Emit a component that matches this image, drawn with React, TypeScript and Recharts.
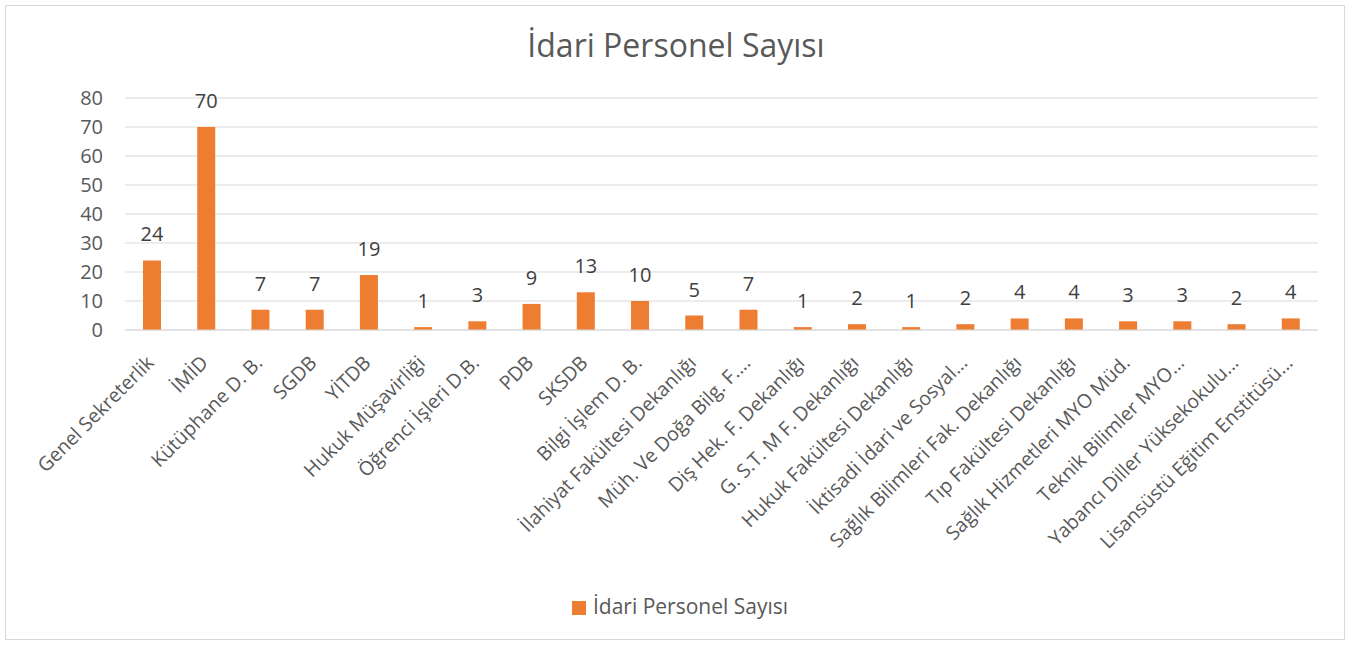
import { BarChart, Bar, XAxis, YAxis, CartesianGrid, Legend, LabelList } from "recharts";

const categories = [
  "Genel Sekreterlik", "İMİD", "Kütüphane D. B.", "SGDB", "YİTDB", "Hukuk Müşavirliği",
  "Öğrenci İşleri D.B.", "PDB", "SKSDB", "Bilgi İşlem D. B.", "İlahiyat Fakültesi Dekanlığı",
  "Müh. Ve Doğa Bilg. F....", "Diş Hek. F. Dekanlığı", "G. S.T. M F. Dekanlığı",
  "Hukuk Fakültesi Dekanlığı", "İktisadi İdari ve Sosyal...", "Sağlık Bilimleri Fak. Dekanlığı",
  "Tıp Fakültesi Dekanlığı", "Sağlık Hizmetleri MYO Müd.", "Teknik Bilimler MYO...",
  "Yabancı Diller Yüksekokulu...", "Lisansüstü Eğitim Enstitüsü...",
];
const counts = [24, 70, 7, 7, 19, 1, 3, 9, 13, 10, 5, 7, 1, 2, 1, 2, 4, 4, 3, 3, 2, 4];
const yTicks = [0, 10, 20, 30, 40, 50, 60, 70, 80];
const seriesName = "İdari Personel Sayısı";

const data = categories.map((name, i) => ({ name, value: counts[i] }));

const font = "'Open Sans', sans-serif";

function CategoryTick({ x, y, payload }: any) {
  return (
    <g transform={`translate(${x + 3},${y + 26}) rotate(-45)`}>
      <text x={0} y={0} textAnchor="end" fill="#595959" fontSize={19.5} fontFamily={font}>
        {payload.value}
      </text>
    </g>
  );
}

export default function App() {
  return (
    <div style={{ position: "absolute", left: 0, top: 0, width: 1352, height: 646, background: "#fff" }}>
      <div style={{ position: "absolute", left: 5, top: 5, width: 1338, height: 633, border: "1px solid #d9d9d9" }} />
      <div style={{ position: "absolute", left: 0, top: 25, width: 1352, textAlign: "center", fontFamily: font, fontSize: 32, lineHeight: "40px", color: "#595959" }}>
        İdari Personel Sayısı
      </div>
      <div style={{ position: "absolute", left: 0, top: 0 }}>
        <BarChart width={1352} height={646} data={data} margin={{ top: 98, right: 34, left: 0, bottom: 48 }}>
          <CartesianGrid vertical={false} stroke="#d9d9d9" strokeWidth={1} />
          <XAxis dataKey="name" interval={0} height={240} tick={<CategoryTick />} tickLine={false} axisLine={{ stroke: "#d9d9d9" }} />
          <YAxis width={125} domain={[0, 80]} ticks={yTicks} tickLine={false} tickSize={0} tickMargin={22} axisLine={false}
            tick={{ fill: "#595959", fontSize: 20, fontFamily: font }} />
          <Legend verticalAlign="bottom" align="center" iconType="square" iconSize={14}
            wrapperStyle={{ bottom: 26, left: 26, height: 28, lineHeight: "28px", fontFamily: font, fontSize: 21 }}
            formatter={(v: string) => <span style={{ color: "#595959", marginLeft: 3 }}>{v}</span>} />
          <Bar dataKey="value" name={seriesName} fill="#ED7D31" barSize={18} isAnimationActive={false}>
            <LabelList dataKey="value" position="top" offset={19} fill="#404040" fontSize={20} fontFamily={font} />
          </Bar>
        </BarChart>
      </div>
    </div>
  );
}
